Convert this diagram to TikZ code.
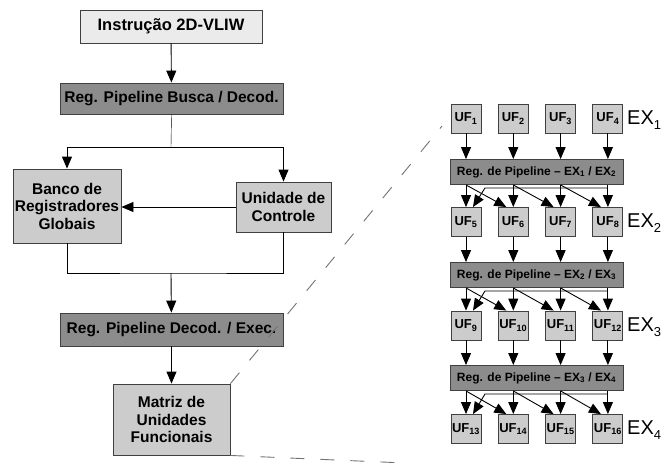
\documentclass[tikz,border=0pt]{standalone}
\usepackage{fontspec}
\setmainfont{Liberation Sans}
\usetikzlibrary{arrows.meta,calc}
\tikzset{
  blkbox/.style={draw=black!75, line width=0.9pt, inner sep=0pt, align=center,
                 font=\bfseries\fontsize{15.5}{17.5}\selectfont},
  lightbox/.style={blkbox, fill=black!8},
  midbox/.style={blkbox, fill=black!20},
  darkbox/.style={blkbox, fill=black!45},
  ufbox/.style={draw=black!75, line width=0.9pt, fill=black!20, inner sep=0pt,
                minimum width=30pt, minimum height=29pt,
                font=\bfseries\fontsize{13}{13}\selectfont},
  pipebox/.style={draw=black!75, line width=0.9pt, fill=black!45, inner sep=0pt,
                  minimum width=173pt, minimum height=25pt,
                  font=\bfseries\fontsize{12}{12}\selectfont},
  exlab/.style={inner sep=0pt, font=\fontsize{20}{20}\selectfont},
  arr/.style={-{Triangle[length=12pt,width=10pt]}, line width=0.9pt},
  zoomline/.style={draw=black!55, line width=0.9pt, dash pattern=on 14pt off 16pt},
}
\newcommand{\exsub}[1]{\raisebox{-5pt}{\fontsize{13}{13}\selectfont #1}}
\begin{document}
\begin{tikzpicture}[x=1pt,y=-1pt]
\useasboundingbox (0,0) rectangle (669,463);
% left column
\node[lightbox, minimum width=182pt, minimum height=33pt] (instr) at (171,26.5)
  {\fontsize{16.5}{18}\selectfont Instrução 2D-VLIW};
\node[darkbox, minimum width=223pt, minimum height=31pt] (regbd) at (171.5,98.5)
  {Reg. Pipeline Busca / Decod.};
\node[midbox, minimum width=108pt, minimum height=74pt] (banco) at (67,206)
  {Banco de\\Registradores\\Globais};
\node[midbox, minimum width=95pt, minimum height=50pt] (unid) at (283.5,207)
  {Unidade de\\Controle};
\node[darkbox, minimum width=223pt, minimum height=33pt] (regde) at (171.5,329.5)
  {Reg. Pipeline Decod. / Exec.};
\node[midbox, minimum width=117pt, minimum height=71pt] (matriz) at (171.5,419.5)
  {Matriz de\\Unidades\\Funcionais};
\coordinate (fork) at (171,147);
\coordinate (join) at (171,273);
\draw[arr] (instr) -- (regbd);
\draw (regbd.south) -- (fork);
\draw[arr] (fork) -| (banco.north);
\draw[arr] (fork) -| (unid.north);
\draw[arr] (unid.west) -- (banco.east |- unid.west);
\draw (banco.south) |- (join) -| (unid.south);
\draw[arr] (join) -- (regde);
\draw[arr] (regde) -- (matriz);
% functional units
\foreach \r in {1,...,4}{
  \foreach \c in {1,...,4}{
    \pgfmathtruncatemacro{\n}{4*(\r-1)+\c}
    \node[ufbox] (uf\n) at ({466+47.3*(\c-1)},{118.5+103.5*(\r-1)}) {UF\textsubscript{\n}};
  }
  \node[exlab, anchor=west] (ex\r) at (627,{120+103.5*(\r-1)}) {EX\exsub{\r}};
}
\foreach \r in {1,2,3}{
  \pgfmathtruncatemacro{\nx}{\r+1}
  \node[pipebox] (reg\r) at (536.5,{172+103*(\r-1)})
    {Reg. de Pipeline -- EX\textsubscript{\r} / EX\textsubscript{\nx}};
}
\foreach \r in {1,2,3}{
  \foreach \c in {1,...,4}{
    \pgfmathtruncatemacro{\a}{4*(\r-1)+\c}
    \pgfmathtruncatemacro{\b}{4*\r+\c}
    \draw[arr] (uf\a) -- (reg\r.north -| uf\a);
    \draw[arr] (reg\r.south -| uf\b) -- (uf\b);
  }
  \foreach \c in {1,2,3}{
    \pgfmathtruncatemacro{\b}{4*\r+\c}
    \pgfmathtruncatemacro{\bb}{4*\r+\c+1}
    \draw[arr] (reg\r.south -| uf\b) -- ([xshift=-7pt]uf\bb.north);
  }
  \pgfmathtruncatemacro{\d}{4*\r+4}
  \pgfmathtruncatemacro{\f}{4*\r+1}
  \draw[arr] ($(reg\r.south -| uf\d)+(0,3)$) -- ($(reg\r.south -| uf\f)+(19,3)$)
    -- ([xshift=7pt]uf\f.north);
}
% zoom lines
\coordinate (zt) at (442,126);
\coordinate (zb) at (405,463);
\draw[zoomline] (matriz.north east) -- (zt);
\draw[zoomline] (matriz.south east) -- (zb);
\end{tikzpicture}
\end{document}
